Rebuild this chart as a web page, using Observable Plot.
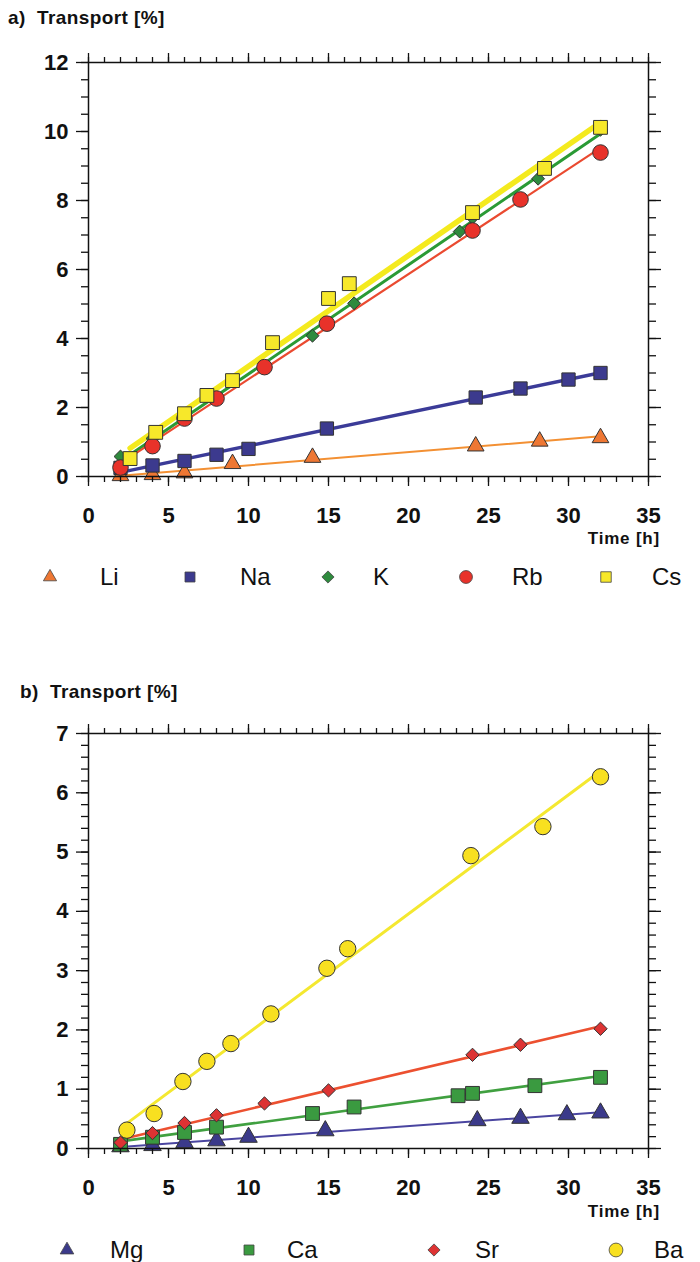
<!DOCTYPE html>
<html><head><meta charset="utf-8">
<script src="https://cdn.jsdelivr.net/npm/d3@7"></script>
<script src="https://cdn.jsdelivr.net/npm/@observablehq/plot@0.6"></script>
<style>
body{margin:0;background:#fff;font-family:"Liberation Sans",Arial,sans-serif;}
#page{position:relative;width:700px;height:1262px;overflow:hidden;background:#fff;}
.abs{position:absolute;line-height:1;white-space:pre;color:#111;}
.title{font-weight:bold;font-size:19px;letter-spacing:0.4px;}
.xl{font-weight:bold;font-size:17px;letter-spacing:0.8px;}
.leg{font-size:24px;}
</style></head><body><div id="page"></div>
<script>
// ---- Panel a data (monovalent) ----
const liX = [2, 4, 6, 9, 14, 24.2, 28.2, 32];
const liY = [0.02, 0.05, 0.1, 0.37, 0.55, 0.88, 1.02, 1.12];
const naX = [2, 4, 6, 8, 10, 14.9, 24.2, 27, 30, 32];
const naY = [0.25, 0.32, 0.45, 0.63, 0.8, 1.39, 2.29, 2.55, 2.81, 3.0];
const kX = [2, 4, 6, 8, 14, 16.6, 23.2, 24, 28.1, 32];
const kY = [0.58, 1.1, 1.72, 2.26, 4.08, 5.02, 7.1, 7.5, 8.63, 10.05];
const rbX = [2, 4, 6, 8, 11, 14.9, 24, 27, 32];
const rbY = [0.26, 0.88, 1.68, 2.26, 3.17, 4.43, 7.13, 8.03, 9.39];
const csX = [2.6, 4.2, 6, 7.4, 9, 11.5, 15, 16.3, 24, 28.5, 32];
const csY = [0.52, 1.28, 1.82, 2.35, 2.78, 3.88, 5.16, 5.59, 7.65, 8.93, 10.12];
// ---- Panel b data (divalent) ----
const mgX = [2, 4, 6, 8, 10, 14.8, 24.3, 27, 29.9, 32];
const mgY = [0.03, 0.05, 0.1, 0.13, 0.19, 0.3, 0.47, 0.51, 0.57, 0.6];
const caX = [2, 4, 6, 8, 14, 16.6, 23.1, 24, 27.9, 32];
const caY = [0.07, 0.19, 0.27, 0.36, 0.59, 0.7, 0.89, 0.93, 1.06, 1.2];
const srX = [2, 4, 6, 8, 11, 15, 24, 27, 32];
const srY = [0.1, 0.26, 0.43, 0.56, 0.76, 0.98, 1.58, 1.75, 2.02];
const baX = [2.4, 4.1, 5.9, 7.4, 8.9, 11.4, 14.9, 16.2, 23.9, 28.4, 32];
const baY = [0.31, 0.59, 1.13, 1.47, 1.77, 2.27, 3.04, 3.37, 4.94, 5.43, 6.27];
// ---- ticks ----
const xTicks = [0, 5, 10, 15, 20, 25, 30, 35];
const yTicksA = [0, 2, 4, 6, 8, 10, 12];
const yTicksB = [0, 1, 2, 3, 4, 5, 6, 7];
const seriesA = ["Li", "Na", "K", "Rb", "Cs"];
const seriesB = ["Mg", "Ca", "Sr", "Ba"];

const rows = (xs, ys) => xs.map((x, i) => ({x, y: ys[i]}));
const xMinor = d3.range(0, 36);
const yMinorA = d3.range(0, 25).map(i => i * 0.5);
const yMinorB = d3.range(0, 36).map(i => i / 5);

const styleA = {
  Li: {data: rows(liX, liY), sym: "triangle", d3sym: d3.symbolTriangle, fill: "#ee7733", line: "#f39033", lw: 2, r: 6.2, lsize: 75},
  Na: {data: rows(naX, naY), sym: "square", d3sym: d3.symbolSquare, fill: "#3c3a8e", line: "#3b3b98", lw: 3.5, r: 7.5, lsize: 100},
  K:  {data: rows(kX, kY), sym: "diamond2", d3sym: d3.symbolDiamond2, fill: "#2f8a3e", line: "#2a9a35", lw: 3, r: 5.8, lsize: 95},
  Rb: {data: rows(rbX, rbY), sym: "circle", d3sym: d3.symbolCircle, fill: "#e8322a", line: "#ea4a30", lw: 2.2, r: 7.8, lsize: 130},
  Cs: {data: rows(csX, csY), sym: "square", d3sym: d3.symbolSquare, fill: "#f7e82a", line: "#f4ea1e", lw: 5.5, r: 7.8, lsize: 110}
};
const styleB = {
  Mg: {data: rows(mgX, mgY), sym: "triangle", d3sym: d3.symbolTriangle, fill: "#3b3a8a", line: "#4a45a0", lw: 2, r: 6.5, lsize: 80},
  Ca: {data: rows(caX, caY), sym: "square", d3sym: d3.symbolSquare, fill: "#3a9a40", line: "#40a040", lw: 2.6, r: 7.8, lsize: 100},
  Sr: {data: rows(srX, srY), sym: "diamond2", d3sym: d3.symbolDiamond2, fill: "#dd3333", line: "#ec5030", lw: 2.6, r: 6, lsize: 95},
  Ba: {data: rows(baX, baY), sym: "circle", d3sym: d3.symbolCircle, fill: "#f8e020", line: "#f4e830", lw: 3, r: 8.2, lsize: 150}
};

const blank = () => "";
function axes(yMaj, yMin) {
  const o = {stroke: "#111", strokeWidth: 1.3, label: null};
  const t = {fontWeight: "bold", fontSize: 22, tickFormat: "d"};
  return [
    Plot.axisX(xMinor, {...o, anchor: "bottom", tickSize: 6, tickFormat: blank}),
    Plot.axisX(xTicks, {...o, ...t, anchor: "bottom", tickSize: 10, tickPadding: 21}),
    Plot.axisX(xMinor, {...o, anchor: "top", tickSize: 6, tickFormat: blank}),
    Plot.axisX(xTicks, {...o, anchor: "top", tickSize: 10, tickFormat: blank}),
    Plot.axisY(yMin, {...o, anchor: "left", tickSize: 7, tickFormat: blank}),
    Plot.axisY(yMaj, {...o, ...t, anchor: "left", tickSize: 12, tickPadding: 8}),
    Plot.axisY(yMin, {...o, anchor: "right", tickSize: 7, tickFormat: blank}),
    Plot.axisY(yMaj, {...o, anchor: "right", tickSize: 12, tickFormat: blank}),
    Plot.frame({stroke: "#111", strokeWidth: 1.5})
  ];
}

function panel(names, styles, yMax, yMaj, yMin, height, mt, mb) {
  const lines = names.map(n => Plot.linearRegressionY(styles[n].data, {x: "x", y: "y", stroke: styles[n].line, strokeWidth: styles[n].lw, ci: 0}));
  const dots = names.map(n => Plot.dot(styles[n].data, {x: "x", y: "y", symbol: styles[n].sym, r: styles[n].r, fill: styles[n].fill, stroke: "#333", strokeWidth: 1}));
  return Plot.plot({
    width: 700, height,
    marginLeft: 88, marginRight: 52, marginTop: mt, marginBottom: mb,
    x: {domain: [0, 35]},
    y: {domain: [0, yMax]},
    style: {fontSize: "22px", fontFamily: "'Liberation Sans', Arial, sans-serif", color: "#111", background: "transparent"},
    marks: [...lines, ...dots, ...axes(yMaj, yMin)]
  });
}

const page = document.getElementById("page");
function place(el, left, top) {
  el.style.position = "absolute"; el.style.left = left + "px"; el.style.top = top + "px";
  page.appendChild(el);
}
function text(str, cls, left, top, right) {
  const d = document.createElement("div");
  d.className = "abs " + cls;
  d.textContent = str;
  if (right != null) { d.style.right = right + "px"; d.style.top = top + "px"; page.appendChild(d); }
  else place(d, left, top);
}
function legendItem(st, label, sx, tx, cy) {
  const ns = "http://www.w3.org/2000/svg";
  const s = document.createElementNS(ns, "svg");
  s.setAttribute("width", 24); s.setAttribute("height", 24);
  const p = document.createElementNS(ns, "path");
  p.setAttribute("d", d3.symbol(st.d3sym, st.lsize)());
  p.setAttribute("transform", "translate(12,12)");
  p.setAttribute("fill", st.fill); p.setAttribute("stroke", "#444"); p.setAttribute("stroke-width", 0.8);
  s.appendChild(p);
  s.style.position = "absolute"; s.style.left = (sx - 12) + "px"; s.style.top = (cy - 12) + "px";
  page.appendChild(s);
  text(label, "leg", tx, cy - 12);
}

const svgA = panel(seriesA, styleA, 12, yTicksA, yMinorA, 600, 62, 124);
place(svgA, 0, 0);
const svgB = panel(seriesB, styleB, 7, yTicksB, yMinorB, 622, 93, 114);
place(svgB, 0, 640);

text("a)  Transport [%]", "title", 8, 8);
text("b)  Transport [%]", "title", 20, 682);
text("Time [h]", "xl", 0, 530, 40);
text("Time [h]", "xl", 0, 1203, 40);

const legA = [[50, 100], [190, 240], [328, 373], [466, 512], [606, 652]];
seriesA.forEach((n, i) => legendItem(styleA[n], n, legA[i][0], legA[i][1], 577));
const legB = [[67, 110], [249, 287], [434, 475], [616, 654]];
seriesB.forEach((n, i) => legendItem(styleB[n], n, legB[i][0], legB[i][1], 1250));
</script></body></html>
